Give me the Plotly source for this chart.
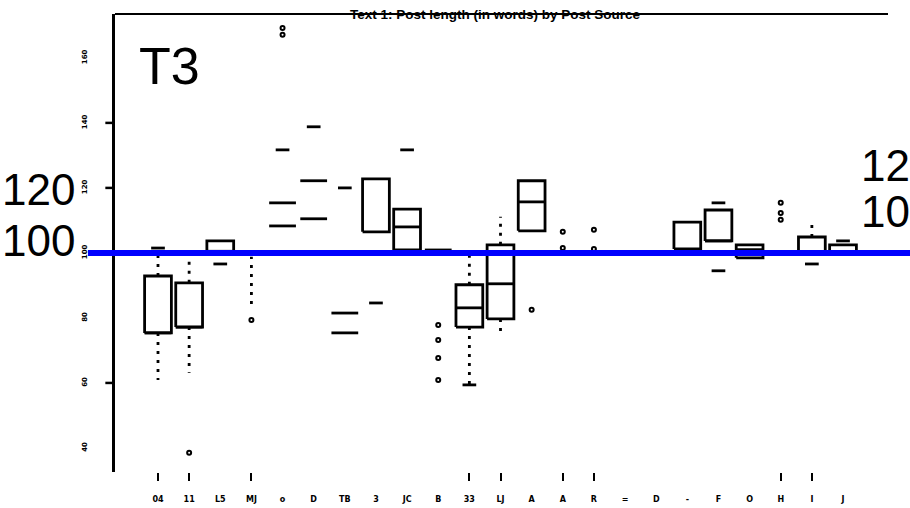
import plotly.graph_objects as go

# ---------------- data ----------------
categories = ["04", "11", "L5", "MJ", "o", "D", "TB", "3", "JC", "B", "33", "LJ",
              "A", "A", "R", "=", "D", "-", "F", "O", "H", "I", "J"]
ticked_categories = [1, 2, 4, 11, 12, 14, 15, 21, 22]

box_low = [75.4, 77.2, 100.5, None, None, None, None, 106.5, 100.9, None, 77.2, 79.7,
           106.8, None, None, None, None, 101.2, 103.7, 98.5, None, 100.5, 100.0]
box_high = [92.9, 90.8, 103.7, None, None, None, None, 122.8, 113.5, None, 90.2, 102.5,
            122.2, None, None, None, None, 109.5, 113.2, 102.5, None, 104.9, 102.5]
medians = [75.4, 77.2, 100.5, None, None, None, None, None, 108.0, None, 83.1, 90.5,
           115.7, None, None, None, None, None, 103.7, 101.0, None, None, None]
whisker_low = [60.9, 63.1, None, 84.3, None, None, None, None, None, None, 59.4, 74.2,
               None, None, None, None, None, None, None, None, None, None, None]
whisker_high = [101.5, 98.5, None, 98.8, None, None, None, None, None, None, 99.1, 111.1,
                None, None, None, None, None, None, None, None, None, 109.5, None]
wide_levels = [[], [], [], [], [115.4, 108.3], [122.2, 110.5], [81.5, 75.4], [], [], [100.9],
               [], [], [], [], [], [], [], [], [], [], [], [], []]
short_levels = [[101.5], [], [96.6], [], [131.7], [138.8], [120.0], [84.6], [131.7], [],
                [59.4], [], [], [], [], [], [], [], [115.4, 94.5], [], [], [96.6], [103.7]]
outliers = [[], [38.5], [], [79.4], [169.2, 167.1], [], [], [], [], [77.8, 73.2, 67.7, 60.9],
            [], [], [82.5], [106.5, 101.5], [107.1, 101.2], [], [], [], [], [], [115.4, 112.3, 110.2],
            [], []]

y_ticks = [40, 60, 80, 100, 120, 140, 160]
y_marked_ticks = [60, 120, 140]
reference_value = 100
y_range = [32.6, 173.5]
x_range = [-0.381, 24.445]

title = "Text 1: Post length (in words) by Post Source"

# ---------------- build marks ----------------
BOX_HALF = 0.43
SHORT_HALF = 0.22
xs = list(range(1, len(categories) + 1))

bx, by = [], []
for x, lo, hi in zip(xs, box_low, box_high):
    if lo is None or hi is None:
        continue
    bx += [x - BOX_HALF, x + BOX_HALF, x + BOX_HALF, x - BOX_HALF, x - BOX_HALF, None]
    by += [lo, lo, hi, hi, lo, None]

mx, my = [], []
for x, m in zip(xs, medians):
    if m is None:
        continue
    mx += [x - BOX_HALF, x + BOX_HALF, None]
    my += [m, m, None]
for x, levels in zip(xs, wide_levels):
    for v in levels:
        mx += [x - BOX_HALF, x + BOX_HALF, None]
        my += [v, v, None]

sx, sy = [], []
for x, levels in zip(xs, short_levels):
    for v in levels:
        sx += [x - SHORT_HALF, x + SHORT_HALF, None]
        sy += [v, v, None]

wx, wy = [], []
for x, lo, hi, wl, wh in zip(xs, box_low, box_high, whisker_low, whisker_high):
    if lo is not None and hi is not None:
        if wl is not None:
            wx += [x, x, None]; wy += [lo, wl, None]
        if wh is not None:
            wx += [x, x, None]; wy += [hi, wh, None]
    elif wl is not None and wh is not None:
        wx += [x, x, None]; wy += [wl, wh, None]

ox, oy = [], []
for x, vals in zip(xs, outliers):
    for v in vals:
        ox.append(x); oy.append(v)

fig = go.Figure()
line_style = dict(color="black", width=2.8)
fig.add_trace(go.Scatter(x=bx, y=by, mode="lines", line=line_style, hoverinfo="skip"))
fig.add_trace(go.Scatter(x=mx, y=my, mode="lines", line=line_style, hoverinfo="skip"))
fig.add_trace(go.Scatter(x=sx, y=sy, mode="lines", line=line_style, hoverinfo="skip"))
fig.add_trace(go.Scatter(x=wx, y=wy, mode="lines",
                         line=dict(color="black", width=2.8, dash="3px,6px"), hoverinfo="skip"))
fig.add_trace(go.Scatter(x=ox, y=oy, mode="markers",
                         marker=dict(symbol="circle-open", size=4, color="black",
                                     line=dict(width=2, color="black")),
                         hoverinfo="skip"))
# invisible helper so the tick-mark x axis is drawn
fig.add_trace(go.Scatter(x=[ticked_categories[0]], y=[reference_value], xaxis="x2", yaxis="y",
                         mode="markers", marker=dict(opacity=0), hoverinfo="skip"))

fig.update_layout(
    width=910, height=508,
    margin=dict(l=115, r=22, t=14, b=36, autoexpand=False),
    paper_bgcolor="white", plot_bgcolor="white",
    showlegend=False,
    font=dict(family="Liberation Sans, Arial, sans-serif", color="black"),
    xaxis=dict(range=x_range, tickmode="array", tickvals=xs, ticktext=categories,
               ticks="", showgrid=False, zeroline=False, showline=False, automargin=False,
               tickfont=dict(size=8, family="DejaVu Sans", color="black", weight="bold"),
               ticklabelstandoff=21),
    xaxis2=dict(range=x_range, overlaying="x", anchor="y", side="bottom",
                tickmode="array", tickvals=ticked_categories, ticks="outside",
                ticklen=8, tickwidth=2, tickcolor="black", showticklabels=False,
                showgrid=False, zeroline=False, showline=False, automargin=False),
    yaxis=dict(range=y_range, tickmode="array", tickvals=y_ticks, ticks="",
               showgrid=False, zeroline=False, showline=True, linecolor="black",
               linewidth=2.5, tickangle=-90, automargin=False,
               tickfont=dict(size=7, family="DejaVu Sans", color="black", weight="bold"),
               ticklabelstandoff=22),
)

# top frame line
fig.add_shape(type="line", xref="paper", yref="paper", x0=0, x1=1, y0=1, y1=1,
              line=dict(color="black", width=2))

# y tick marks (only some are drawn in the original)
for v in y_marked_ticks:
    yp = (v - y_range[0]) / (y_range[1] - y_range[0])
    fig.add_shape(type="line", xref="paper", yref="paper", x0=-0.0125, x1=-0.002,
                  y0=yp, y1=yp, line=dict(color="black", width=2.5))

# reference line (extends beyond plot area)
ref_paper = (reference_value - y_range[0]) / (y_range[1] - y_range[0])
fig.add_shape(type="line", xref="paper", yref="paper", x0=-0.035, x1=1.03,
              y0=ref_paper, y1=ref_paper, line=dict(color="#0000ff", width=6))

# title
fig.add_annotation(text="<b>" + title + "</b>", xref="paper", yref="paper",
                   x=0.4916, y=1.0, xanchor="center", yanchor="middle",
                   showarrow=False, font=dict(size=13.5, color="black"))

big_font = dict(family="Liberation Sans, Arial", size=44, color="black")
fig.add_annotation(text="T3", xref="paper", yref="paper", x=0.028, y=0.886,
                   xanchor="left", yanchor="middle", showarrow=False,
                   font=dict(family="Liberation Sans, Arial", size=52, color="black"))
fig.add_annotation(text="120", xref="paper", yref="paper", x=-0.149, y=0.616,
                   xanchor="left", yanchor="middle", showarrow=False, font=big_font)
fig.add_annotation(text="100", xref="paper", yref="paper", x=-0.149, y=0.505,
                   xanchor="left", yanchor="middle", showarrow=False, font=big_font)
fig.add_annotation(text="12", xref="paper", yref="paper", x=0.962, y=0.670,
                   xanchor="left", yanchor="middle", showarrow=False, font=big_font)
fig.add_annotation(text="10", xref="paper", yref="paper", x=0.962, y=0.568,
                   xanchor="left", yanchor="middle", showarrow=False, font=big_font)

fig.write_html("out.html")
